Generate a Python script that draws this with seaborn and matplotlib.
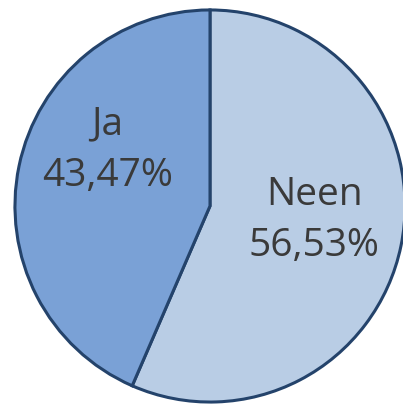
import matplotlib.pyplot as plt
import seaborn as sns

labels = ["Neen", "Ja"]
shares = [56.53, 43.47]
share_text = ["56,53%", "43,47%"]
colors = ["#b9cde5", "#7aa1d6"]

sns.set_theme(style="white")
plt.rcParams["font.family"] = ["Open Sans", "DejaVu Sans"]

fig = plt.figure(figsize=(4.03, 4.06), dpi=100)
ax = fig.add_axes([13 / 403, 1 / 406, 394 / 403, 396 / 406])
ax.pie(shares, colors=colors, startangle=90, counterclock=False, radius=1,
       wedgeprops={"edgecolor": "#24436b", "linewidth": 2.2})
ax.set_xlim(-1.01, 1.01)
ax.set_ylim(-1.01, 1.01)
ax.set_aspect("auto")
ax.axis("off")

# label positions in data coords (pie radius 1)
label_pos = [(0.535, -0.07), (-0.525, 0.29)]
for name, txt, (x, y) in zip(labels, share_text, label_pos):
    ax.text(x, y, f"{name}\n{txt}", ha="center", va="center", fontsize=28,
            color="#3a3a3a", linespacing=1.45)

fig.savefig("out.png", dpi=100)
